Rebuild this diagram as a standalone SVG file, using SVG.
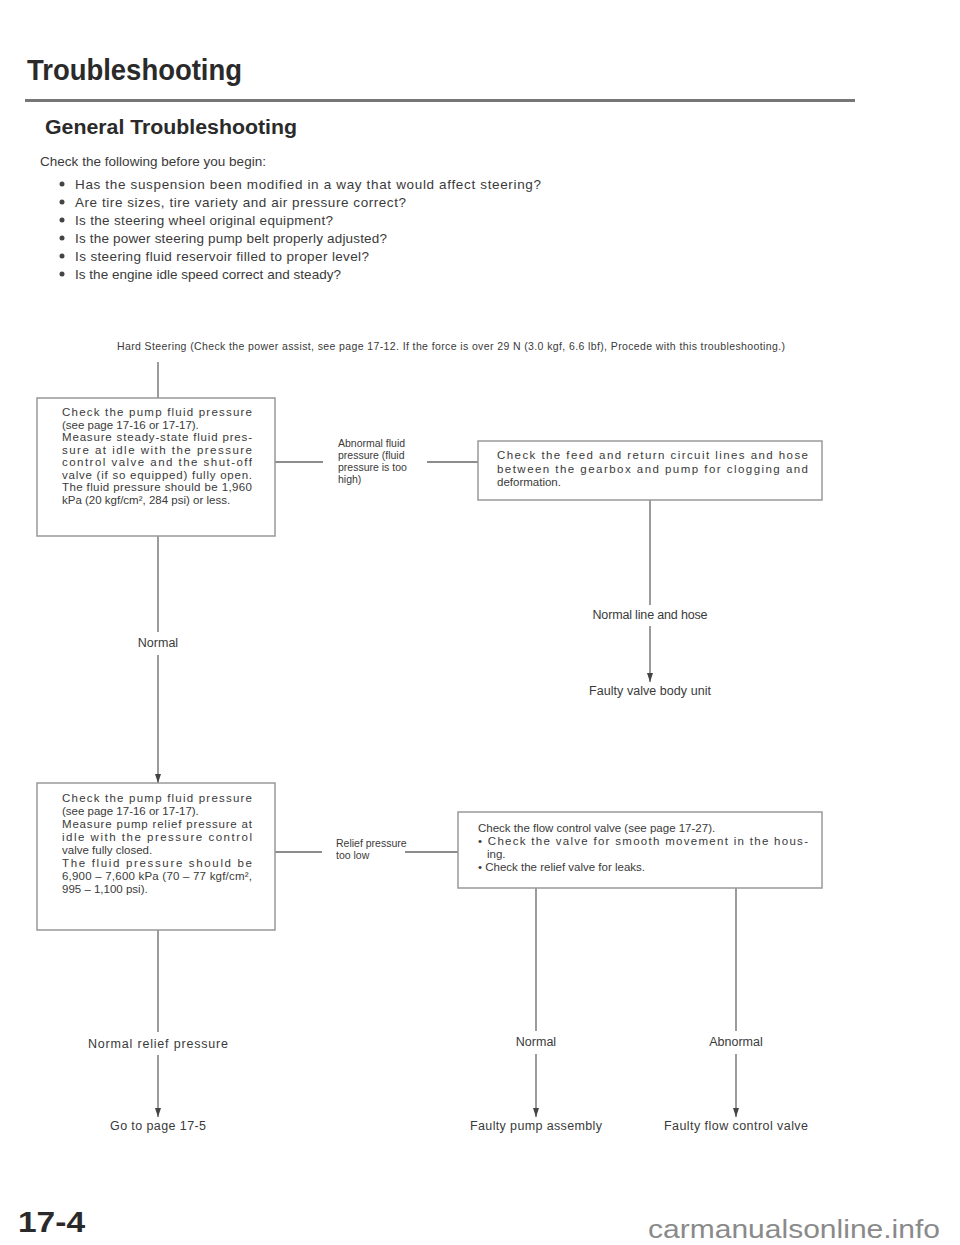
<svg xmlns="http://www.w3.org/2000/svg" width="960" height="1245" viewBox="0 0 960 1245">
<defs>
<marker id="arr" markerWidth="9" markerHeight="6" refX="9" refY="3" orient="auto" markerUnits="userSpaceOnUse" viewBox="0 0 9 6">
<path d="M0,0 L9,3 L0,6 Z" fill="#444"/>
</marker>
<style>
.t{font-family:"Liberation Sans",Arial,sans-serif;fill:#3a3a3a}
.h1{font-family:"Liberation Sans",Arial,sans-serif;font-weight:bold;fill:#2a2a2a;font-size:29px}
.h2{font-family:"Liberation Sans",Arial,sans-serif;font-weight:bold;fill:#2a2a2a;font-size:20px}
.b{font-size:13.5px}
.bx{font-size:11.5px}
.lb{font-size:10.5px}
.ll{font-size:12.5px}
.box{fill:#fff;stroke:#999;stroke-width:1.5}
.c{stroke:#666;stroke-width:1.3;fill:none}
.dot{fill:#444}
</style>
</defs>
<rect width="960" height="1245" fill="#fff"/>

<g id="header">
<text class="h1" x="27" y="80" textLength="215" lengthAdjust="spacingAndGlyphs">Troubleshooting</text>
<rect x="25" y="99" width="830" height="3" fill="#777"/>
<text class="h2" x="45" y="134" textLength="252" lengthAdjust="spacingAndGlyphs">General Troubleshooting</text>
</g>

<g id="checklist" class="t b">
<text x="40" y="166" textLength="226">Check the following before you begin:</text>
<circle class="dot" cx="62" cy="184" r="2.5"/>
<text x="75" y="189" textLength="466">Has the suspension been modified in a way that would affect steering?</text>
<circle class="dot" cx="62" cy="202" r="2.5"/>
<text x="75" y="207" textLength="331">Are tire sizes, tire variety and air pressure correct?</text>
<circle class="dot" cx="62" cy="220" r="2.5"/>
<text x="75" y="225" textLength="258">Is the steering wheel original equipment?</text>
<circle class="dot" cx="62" cy="238" r="2.5"/>
<text x="75" y="243" textLength="312">Is the power steering pump belt properly adjusted?</text>
<circle class="dot" cx="62" cy="256" r="2.5"/>
<text x="75" y="261" textLength="294">Is steering fluid reservoir filled to proper level?</text>
<circle class="dot" cx="62" cy="274" r="2.5"/>
<text x="75" y="279" textLength="266">Is the engine idle speed correct and steady?</text>
</g>

<g id="start">
<text class="t lb" x="117" y="350" textLength="668">Hard Steering (Check the power assist, see page 17-12. If the force is over 29 N (3.0 kgf, 6.6 lbf), Procede with this troubleshooting.)</text>
</g>

<g id="connectors">
<line class="c" x1="158" y1="362" x2="158" y2="398"/>
<line class="c" x1="158" y1="536" x2="158" y2="632"/>
<line class="c" x1="158" y1="655" x2="158" y2="783" marker-end="url(#arr)"/>
<line class="c" x1="275" y1="462" x2="323" y2="462"/>
<line class="c" x1="427" y1="462" x2="478" y2="462"/>
<line class="c" x1="650" y1="500" x2="650" y2="605"/>
<line class="c" x1="650" y1="626" x2="650" y2="682" marker-end="url(#arr)"/>
<line class="c" x1="158" y1="930" x2="158" y2="1032"/>
<line class="c" x1="158" y1="1055" x2="158" y2="1117" marker-end="url(#arr)"/>
<line class="c" x1="275" y1="852" x2="322" y2="852"/>
<line class="c" x1="405" y1="852" x2="458" y2="852"/>
<line class="c" x1="536" y1="888" x2="536" y2="1031"/>
<line class="c" x1="536" y1="1054" x2="536" y2="1117" marker-end="url(#arr)"/>
<line class="c" x1="736" y1="888" x2="736" y2="1031"/>
<line class="c" x1="736" y1="1054" x2="736" y2="1117" marker-end="url(#arr)"/>
</g>

<g id="box1">
<rect class="box" x="37" y="398" width="238" height="138"/>
<g class="t bx">
<text x="62" y="416" textLength="190">Check the pump fluid pressure</text>
<text x="62" y="428.5">(see page 17-16 or 17-17).</text>
<text x="62" y="441" textLength="190">Measure steady-state fluid pres-</text>
<text x="62" y="453.5" textLength="190">sure at idle with the pressure</text>
<text x="62" y="466" textLength="190">control valve and the shut-off</text>
<text x="62" y="478.5" textLength="190">valve (if so equipped) fully open.</text>
<text x="62" y="491" textLength="190">The fluid pressure should be 1,960</text>
<text x="62" y="503.5">kPa (20 kgf/cm², 284 psi) or less.</text>
</g>
</g>

<g id="label-abnormal" class="t lb">
<text x="338" y="447">Abnormal fluid</text>
<text x="338" y="459">pressure (fluid</text>
<text x="338" y="471">pressure is too</text>
<text x="338" y="483">high)</text>
</g>

<g id="box2">
<rect class="box" x="478" y="441" width="344" height="59"/>
<g class="t bx">
<text x="497" y="459" textLength="311">Check the feed and return circuit lines and hose</text>
<text x="497" y="472.5" textLength="311">between the gearbox and pump for clogging and</text>
<text x="497" y="486">deformation.</text>
</g>
</g>

<g id="label-normal-line" class="t ll">
<text x="650" y="619" text-anchor="middle" textLength="115">Normal line and hose</text>
</g>
<g id="faulty-valve-body" class="t ll">
<text x="650" y="695" text-anchor="middle" textLength="122">Faulty valve body unit</text>
</g>
<g id="label-normal1" class="t ll">
<text x="158" y="647" text-anchor="middle">Normal</text>
</g>

<g id="box3">
<rect class="box" x="37" y="783" width="238" height="147"/>
<g class="t bx">
<text x="62" y="802" textLength="190">Check the pump fluid pressure</text>
<text x="62" y="815">(see page 17-16 or 17-17).</text>
<text x="62" y="828" textLength="190">Measure pump relief pressure at</text>
<text x="62" y="841" textLength="190">idle with the pressure control</text>
<text x="62" y="854">valve fully closed.</text>
<text x="62" y="867" textLength="190">The fluid pressure should be</text>
<text x="62" y="880" textLength="190">6,900 – 7,600 kPa (70 – 77 kgf/cm²,</text>
<text x="62" y="893">995 – 1,100 psi).</text>
</g>
</g>

<g id="label-relief" class="t lb">
<text x="336" y="847">Relief pressure</text>
<text x="336" y="859">too low</text>
</g>

<g id="box4">
<rect class="box" x="458" y="812" width="364" height="76"/>
<g class="t bx">
<text x="478" y="832">Check the flow control valve (see page 17-27).</text>
<text x="478" y="845" textLength="330">• Check the valve for smooth movement in the hous-</text>
<text x="487" y="858">ing.</text>
<text x="478" y="871">• Check the relief valve for leaks.</text>
</g>
</g>

<g id="label-normal-relief" class="t ll">
<text x="158" y="1048" text-anchor="middle" textLength="140">Normal relief pressure</text>
</g>
<g id="goto" class="t ll">
<text x="158" y="1130" text-anchor="middle" textLength="96">Go to page 17-5</text>
</g>
<g id="label-normal2" class="t ll">
<text x="536" y="1046" text-anchor="middle">Normal</text>
</g>
<g id="label-abnormal2" class="t ll">
<text x="736" y="1046" text-anchor="middle">Abnormal</text>
</g>
<g id="faulty-pump" class="t ll">
<text x="536" y="1130" text-anchor="middle" textLength="132">Faulty pump assembly</text>
</g>
<g id="faulty-flow" class="t ll">
<text x="736" y="1130" text-anchor="middle" textLength="144">Faulty flow control valve</text>
</g>

<g id="footer">
<text class="h1" x="18" y="1232" textLength="67" lengthAdjust="spacingAndGlyphs">17-4</text>
<text x="648" y="1238" font-family="Liberation Sans, Arial, sans-serif" font-size="25" fill="#8a8a8a" textLength="292" lengthAdjust="spacingAndGlyphs">carmanualsonline.info</text>
</g>
</svg>
